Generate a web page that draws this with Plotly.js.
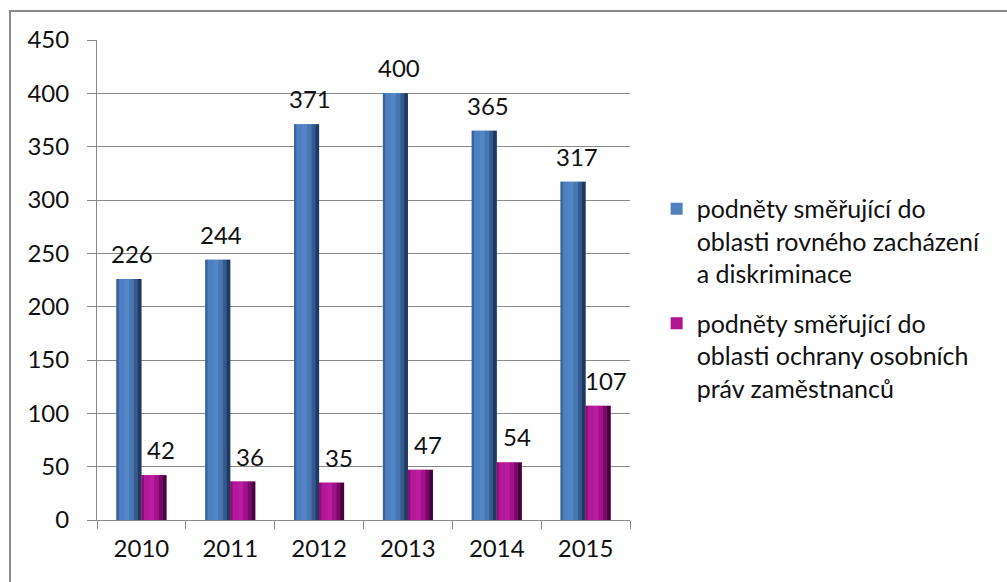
<!DOCTYPE html>
<html>
<head>
<meta charset="utf-8">
<script src="https://cdn.plot.ly/plotly-3.0.1.min.js"></script>
<style>
html,body{margin:0;padding:0;background:#fff;}
#wrap{position:relative;width:1007px;height:582px;overflow:hidden;}
#chart{position:absolute;left:0;top:0;width:1007px;height:582px;}
#frame{position:absolute;left:9px;top:10px;width:1010px;height:590px;border-top:2px solid #8a8a8a;border-left:2px solid #8a8a8a;pointer-events:none;}
</style>
</head>
<body>
<div id="wrap"><div id="chart"></div><div id="frame"></div></div>
<script>
var years = ['2010','2011','2012','2013','2014','2015'];
var seriesNames = [
  'podněty směřující do<br>oblasti rovného zacházení<br>a diskriminace',
  'podněty směřující do<br>oblasti ochrany osobních<br>práv zaměstnanců'
];
var rovneZachazeni = [226, 244, 371, 400, 365, 317];
var ochranaPrav = [42, 36, 35, 47, 54, 107];

var FONT = 'Lato, "Open Sans", sans-serif';
var W = 0.2815; // bar width in category units
var blueMain = '#4f81bd', magMain = '#b0158f';
var blueStrips = ['#3a659c','#4e80c1','#5286c6','#4776b2','#33598f','#1f3a5f'];
var magStrips  = ['#8e0d78','#b2189a','#bb1ca3','#a3128a','#78096a','#45033b'];
var fracs = [0.10,0.22,0.20,0.18,0.15,0.15];

var traces = [];
var annotations = [];
function addSeries(vals, name, main, strips, baseOffset, grp, xshift){
  traces.push({
    type:'bar', x:years, y:vals, name:name, legendgroup:grp,
    offset: baseOffset, width: W,
    marker:{color:main, line:{width:0}},
    hoverinfo:'skip'
  });
  var acc = 0;
  for (var i=0;i<strips.length;i++){
    traces.push({
      type:'bar', x:years, y:vals, showlegend:false, legendgroup:grp,
      offset: baseOffset + acc*W, width: fracs[i]*W,
      marker:{color:strips[i], line:{width:0}},
      hoverinfo:'skip'
    });
    acc += fracs[i];
  }
  for (var j=0;j<years.length;j++){
    annotations.push({
      x: j, y: vals[j], xref:'x', yref:'y',
      text: String(vals[j]), showarrow:false,
      xanchor:'center', yanchor:'bottom', xshift:xshift, yshift:9,
      font:{family:FONT, size:24, color:'#111'}
    });
  }
}
addSeries(rovneZachazeni, seriesNames[0], blueMain, blueStrips, -W, 'a', -9);
addSeries(ochranaPrav, seriesNames[1], magMain, magStrips, 0, 'b', 20);

var layout = {
  width:1007, height:582,
  margin:{l:97, r:377, t:40, b:62},
  paper_bgcolor:'#fff', plot_bgcolor:'#fff',
  barmode:'overlay',
  showlegend:true,
  annotations: annotations,
  legend:{x:1.05, xanchor:'left', y:0.696, yanchor:'top', valign:'top',
          traceorder:'grouped', tracegroupgap:14, itemwidth:30,
          font:{family:FONT, size:25, color:'#111'},
          bgcolor:'rgba(0,0,0,0)'},
  font:{family:FONT, size:24, color:'#111'},
  xaxis:{type:'category', range:[-0.5, years.length-0.5], tickson:'boundaries', ticks:'outside', ticklen:8,
         tickcolor:'#8a8a8a', showline:true, linecolor:'#8a8a8a', linewidth:1,
         ticklabelstandoff:7,
         showgrid:false, tickfont:{family:FONT, size:24, color:'#111'}, fixedrange:true},
  yaxis:{range:[0,450], dtick:50, ticks:'outside', ticklen:9, tickcolor:'#8a8a8a',
         showline:true, linecolor:'#8a8a8a', linewidth:1,
         showgrid:true, gridcolor:'#8a8a8a', gridwidth:1, zeroline:false,
         ticklabelstandoff:13,
         tickfont:{family:FONT, size:24, color:'#111'}, fixedrange:true}
};
Plotly.newPlot('chart', traces, layout, {displayModeBar:false, staticPlot:true});
</script>
</body>
</html>
